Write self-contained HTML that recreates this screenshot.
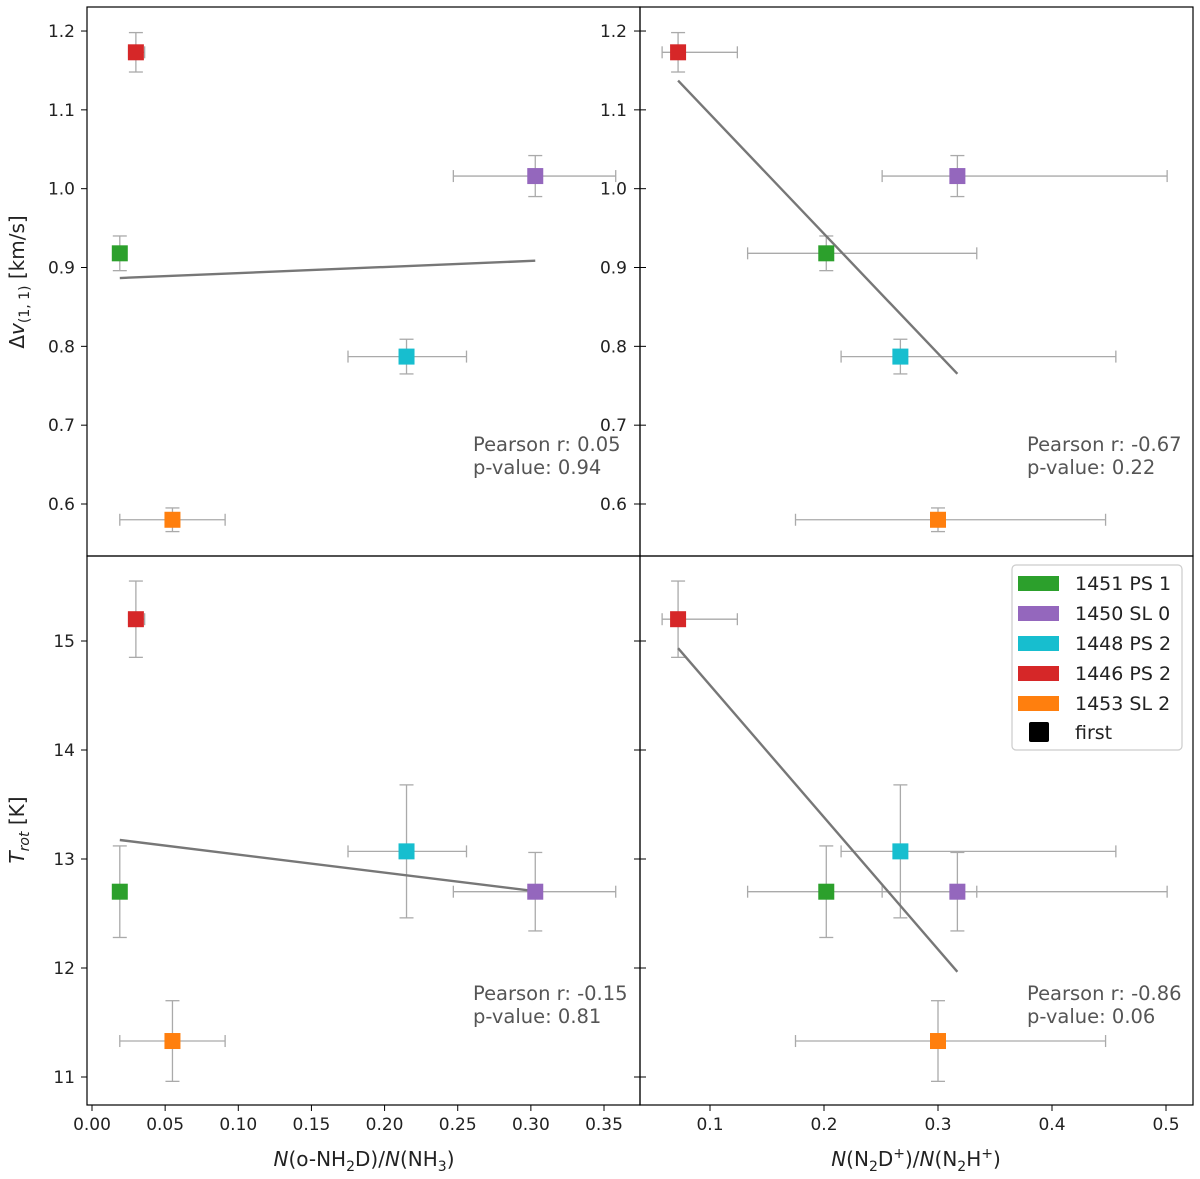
<!DOCTYPE html>
<html><head><meta charset="utf-8"><style>
body{margin:0;background:#fff;}
svg{display:block;font-family:"DejaVu Sans","Liberation Sans",sans-serif;}
</style></head><body>
<svg id="c" width="1200" height="1179" viewBox="0 0 1200 1179" xmlns="http://www.w3.org/2000/svg"></svg>
<script>
const names=["1451 PS 1","1450 SL 0","1448 PS 2","1446 PS 2","1453 SL 2"];
const colors=["#2ca02c","#9467bd","#17becf","#d62728","#ff7f0e"];
const xNH2D=[0.019,0.303,0.215,0.030,0.055];
const xNH2DLo=[0.017,0.247,0.175,0.025,0.019];
const xNH2DHi=[0.021,0.358,0.256,0.036,0.091];
const xN2D=[0.202,0.317,0.267,0.072,0.300];
const xN2DLo=[0.133,0.251,0.215,0.058,0.175];
const xN2DHi=[0.334,0.501,0.456,0.124,0.447];
const dv=[0.918,1.016,0.787,1.173,0.580];
const dvErr=[0.022,0.026,0.022,0.025,0.015];
const trot=[12.70,12.70,13.07,15.20,11.33];
const trotErr=[0.42,0.36,0.61,0.35,0.37];
const stats=[["Pearson r: 0.05","p-value: 0.94"],["Pearson r: -0.67","p-value: 0.22"],["Pearson r: -0.15","p-value: 0.81"],["Pearson r: -0.86","p-value: 0.06"]];
const leftTicks=[0,0.05,0.1,0.15,0.2,0.25,0.3,0.35];
const leftTickLabels=["0.00","0.05","0.10","0.15","0.20","0.25","0.30","0.35"];
const rightTicks=[0.1,0.2,0.3,0.4,0.5];
const dvTicks=[0.6,0.7,0.8,0.9,1.0,1.1,1.2];
const tTicks=[11,12,13,14,15];

const svg=document.getElementById('c');const NS="http://www.w3.org/2000/svg";
function el(t,a,p){const e=document.createElementNS(NS,t);for(const k in a)e.setAttribute(k,a[k]);(p||svg).appendChild(e);return e;}
const xL=v=>92+v*1462.9, xR=v=>710+(v-0.1)*1140;
const yT=v=>504-(v-0.6)*788.3, yB=v=>1077-(v-11)*109;
function panel(name,x0,y0,w,h,xs,xv,xlo,xhi,ys,yv,ye,st,tx,ty){
 const g=el('g',{});
 
 
 const n=xv.length;let mx=0,my=0;for(let i=0;i<n;i++){mx+=xv[i];my+=yv[i];}mx/=n;my/=n;
 let sxy=0,sxx=0;for(let i=0;i<n;i++){sxy+=(xv[i]-mx)*(yv[i]-my);sxx+=(xv[i]-mx)**2;}
 const b=sxy/sxx,a=my-b*mx;const xmin=Math.min(...xv),xmax=Math.max(...xv);
 for(let i=0;i<n;i++){
  const eg=el('g',{stroke:'#aaa','stroke-width':1.3,fill:'none'},g);
  
  
  const px=xs(xv[i]),py=ys(yv[i]),x1=xs(xlo[i]),x2=xs(xhi[i]),y1=ys(yv[i]-ye[i]),y2=ys(yv[i]+ye[i]);
  el('line',{x1:x1,x2:x2,y1:py,y2:py},eg);el('line',{x1:x1,x2:x1,y1:py-6,y2:py+6},eg);el('line',{x1:x2,x2:x2,y1:py-6,y2:py+6},eg);
  el('line',{x1:px,x2:px,y1:y1,y2:y2},eg);el('line',{x1:px-7,x2:px+7,y1:y1,y2:y1},eg);el('line',{x1:px-7,x2:px+7,y1:y2,y2:y2},eg);
 }
 const ln=el('line',{x1:xs(xmin),y1:ys(a+b*xmin),x2:xs(xmax),y2:ys(a+b*xmax),stroke:'#777','stroke-width':2.4},g);
 
 
 for(let i=0;i<n;i++){
  const r=el('rect',{x:xs(xv[i])-8,y:ys(yv[i])-8,width:16,height:16,fill:colors[i]},g);
  
  
 }
 const t=el('text',{x:tx,y:ty,'font-size':19.5,fill:'#555'},g);t.textContent=st[0];
 
 
 const t2=el('text',{x:tx,y:ty+23,'font-size':19.5,fill:'#555'},g);t2.textContent=st[1];
 
 
 const fr=el('rect',{x:x0,y:y0,width:w,height:h,fill:'none',stroke:'#000','stroke-width':1.2},g);
 
 
}
panel('panel-top-left',87,7,553,549,xL,xNH2D,xNH2DLo,xNH2DHi,yT,dv,dvErr,stats[0],473,451);
panel('panel-top-right',640,7,553,549,xR,xN2D,xN2DLo,xN2DHi,yT,dv,dvErr,stats[1],1027,451);
panel('panel-bottom-left',87,556,553,549,xL,xNH2D,xNH2DLo,xNH2DHi,yB,trot,trotErr,stats[2],473,1000);
panel('panel-bottom-right',640,556,553,549,xR,xN2D,xN2DLo,xN2DHi,yB,trot,trotErr,stats[3],1027,1000);
function tickLabel(x,y,txt,anchor,name){const t=el('text',{x:x,y:y,'font-size':17,'text-anchor':anchor,fill:'#222'});t.textContent=txt;
 
 }
dvTicks.forEach(v=>{const y=yT(v);el('line',{x1:81,x2:87,y1:y,y2:y,stroke:'#000'});el('line',{x1:634,x2:646,y1:y,y2:y,stroke:'#000'});
 tickLabel(75,y+6,v.toFixed(1),'end','y-tick-label');tickLabel(627,y+6,v.toFixed(1),'end','y-tick-label-right');});
tTicks.forEach(v=>{const y=yB(v);el('line',{x1:81,x2:87,y1:y,y2:y,stroke:'#000'});el('line',{x1:634,x2:646,y1:y,y2:y,stroke:'#000'});
 tickLabel(75,y+6,String(v),'end','y-tick-label');});
leftTicks.forEach((v,i)=>{const x=xL(v);el('line',{x1:x,x2:x,y1:1105,y2:1111,stroke:'#000'});
 tickLabel(x,1130,leftTickLabels[i],'middle','x-tick-label');});
rightTicks.forEach(v=>{const x=xR(v);el('line',{x1:x,x2:x,y1:1105,y2:1111,stroke:'#000'});
 tickLabel(x,1130,v.toFixed(1),'middle','x-tick-label');});
svg.insertAdjacentHTML('beforeend',`
<text transform="translate(24,282) rotate(-90)" text-anchor="middle" font-size="20" fill="#222">Δ<tspan font-style="italic">v</tspan><tspan font-size="14" dy="5">(1, 1)</tspan><tspan dy="-5"> [km/s]</tspan></text>
<text transform="translate(24,830) rotate(-90)" text-anchor="middle" font-size="20" fill="#222"><tspan font-style="italic">T</tspan><tspan font-size="14" dy="5" font-style="italic">rot</tspan><tspan dy="-5"> [K]</tspan></text>
<text x="364" y="1166" text-anchor="middle" font-size="20" fill="#222"><tspan font-style="italic">N</tspan>(o-NH<tspan font-size="14" dy="5">2</tspan><tspan dy="-5">D)/</tspan><tspan font-style="italic">N</tspan>(NH<tspan font-size="14" dy="5">3</tspan><tspan dy="-5">)</tspan></text>
<text x="916" y="1166" text-anchor="middle" font-size="20" fill="#222"><tspan font-style="italic">N</tspan>(N<tspan font-size="14" dy="5">2</tspan><tspan dy="-5">D</tspan><tspan font-size="14" dy="-8">+</tspan><tspan dy="8">)/</tspan><tspan font-style="italic">N</tspan>(N<tspan font-size="14" dy="5">2</tspan><tspan dy="-5">H</tspan><tspan font-size="14" dy="-8">+</tspan><tspan dy="8">)</tspan></text>
`);
const lg=el('g',{});


el('rect',{x:1012,y:565,width:170,height:185,rx:4,fill:'#fff',stroke:'#ccc','stroke-width':1.2},lg);
names.forEach((nm,i)=>{const y=583+i*30;
 const r=el('rect',{x:1018,y:y-7,width:41,height:15,fill:colors[i]},lg);
 
 
 const t=el('text',{x:1075,y:y+7,'font-size':19,fill:'#222'},lg);t.textContent=nm;
 
 });
el('rect',{x:1029,y:722,width:20,height:20,rx:2,fill:'#000'},lg);
const tf=el('text',{x:1075,y:739,'font-size':19,fill:'#222'},lg);tf.textContent='first';


</script>
</body></html>
